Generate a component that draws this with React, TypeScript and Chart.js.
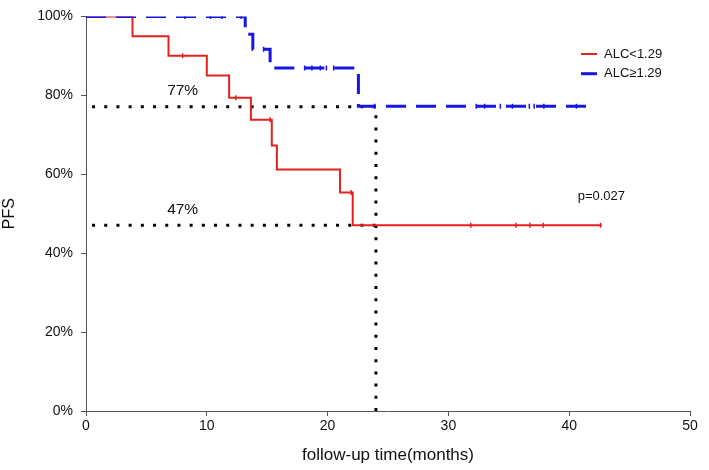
import React, { useEffect, useRef } from 'react';
import { Chart, registerables } from 'chart.js';

Chart.register(...registerables);

// ---- data ----
const seriesNames = ['ALC<1.29', 'ALC≥1.29'];
const redTimes = [0, 3.85, 6.83, 10.0, 11.85, 13.65, 15.38, 15.8, 21.03, 22.08, 42.68];
const redSurv = [100, 95, 90, 85, 79.4, 73.8, 67.3, 61.2, 55.4, 47.1, 47.1];
const blueTimes = [0, 13.18, 13.81, 15.24, 22.55, 41.65];
const blueSurv = [100, 95.5, 91.7, 86.9, 77.2, 77.2];
const redCensor = [8.0, 12.4, 15.25, 21.95, 31.85, 35.6, 36.75, 37.85, 42.6];
const blueCensor = [8.2, 10.3, 11.25, 12.85, 14.7, 18.1, 18.7, 19.4, 19.9, 20.5, 23.9, 32.3, 33.0, 34.3, 35.3, 36.7, 37.1, 37.9, 40.6];
const refLevels = [77.1, 47.1];
const refLabels = ['77%', '47%'];
const refLabelPos = [[8, 81.1], [8, 51.1]];
const refStart = 0.5;
const refTime = 24;
const pText = 'p=0.027';
const pPos = [42.66, 54.4];
const xTicks = [0, 10, 20, 30, 40, 50];
const yTicks = [0, 20, 40, 60, 80, 100];

const RED = '#e3211e';
const BLUE = '#1616e4';
const FONT = '"Liberation Sans", Arial, sans-serif';

function stepValue(times: number[], surv: number[], t: number) {
  let v = surv[0];
  for (let i = 0; i < times.length; i++) if (times[i] <= t) v = surv[i];
  return v;
}

const overlayPlugin = {
  id: 'overlay',
  afterDatasetsDraw(chart: any) {
    const { ctx, scales } = chart;
    const xs = scales.x, ys = scales.y;
    ctx.save();
    ctx.fillStyle = '#111';
    ctx.textBaseline = 'middle';
    ctx.textAlign = 'center';
    ctx.font = `15.5px ${FONT}`;
    refLabels.forEach((l, i) => {
      ctx.fillText(l, xs.getPixelForValue(refLabelPos[i][0]), ys.getPixelForValue(refLabelPos[i][1]));
    });
    ctx.font = `13px ${FONT}`;
    ctx.fillText(pText, xs.getPixelForValue(pPos[0]), ys.getPixelForValue(pPos[1]));
    // legend
    const lx = 581, ly = 54, gap = 19.7;
    const cols = [RED, BLUE];
    const widths = [2, 3];
    seriesNames.forEach((n, i) => {
      const y = ly + i * gap;
      ctx.strokeStyle = cols[i];
      ctx.lineWidth = widths[i];
      ctx.beginPath();
      ctx.moveTo(lx, y);
      ctx.lineTo(lx + 16, y);
      ctx.stroke();
      ctx.textAlign = 'left';
      ctx.fillStyle = '#111';
      ctx.font = `13px ${FONT}`;
      ctx.fillText(n, lx + 23, y);
    });
    ctx.restore();
  },
};

export default function App() {
  const ref = useRef<HTMLCanvasElement | null>(null);
  useEffect(() => {
    document.body.style.margin = '0';
    const canvas = ref.current!;
    const redData = redTimes.map((t, i) => ({ x: t, y: redSurv[i] }));
    const blueData = blueTimes.map((t, i) => ({ x: t, y: blueSurv[i] }));
    const redC = redCensor.map((t) => ({ x: t, y: stepValue(redTimes, redSurv, t) }));
    const blueC = blueCensor.map((t) => ({ x: t, y: stepValue(blueTimes, blueSurv, t) }));
    const dotted = {
      borderColor: '#000',
      borderWidth: 3,
      borderDash: [3, 9.2],
      pointRadius: 0,
      fill: false,
      order: 3,
    };
    const chart = new Chart(canvas, {
      type: 'line',
      data: {
        datasets: [
          {
            label: seriesNames[1], data: blueData, stepped: true, borderColor: BLUE, borderWidth: 3,
            borderDash: [20, 10], pointRadius: 0, fill: false, order: 0,
          },
          {
            label: seriesNames[1] + ' censored', data: blueC, showLine: false, pointStyle: 'line', rotation: 90,
            pointRadius: 2.5, borderColor: BLUE, backgroundColor: BLUE, pointBorderWidth: 1.5, order: 0,
          },
          {
            label: seriesNames[0], data: redData, stepped: true, borderColor: RED, borderWidth: 2,
            pointRadius: 0, fill: false, order: 1,
          },
          {
            label: seriesNames[0] + ' censored', data: redC, showLine: false, pointStyle: 'line', rotation: 90,
            pointRadius: 2.5, borderColor: RED, backgroundColor: RED, pointBorderWidth: 1.5, order: 1,
          },
          { ...dotted, label: 'ref1', data: [{ x: refStart, y: refLevels[0] }, { x: refTime, y: refLevels[0] }] },
          { ...dotted, label: 'ref2', data: [{ x: refStart, y: refLevels[1] }, { x: refTime, y: refLevels[1] }] },
          { ...dotted, label: 'ref3', data: [{ x: refTime, y: 0 }, { x: refTime, y: refLevels[0] }] },
        ],
      },
      options: {
        animation: false,
        responsive: false,
        devicePixelRatio: 1,
        layout: { padding: { left: 0, right: 19, top: 11, bottom: 0 } },
        plugins: { legend: { display: false }, tooltip: { enabled: false } },
        scales: {
          x: {
            type: 'linear', min: 0, max: 50,
            afterBuildTicks: (s: any) => { s.ticks = xTicks.map((v) => ({ value: v })); },
            afterFit: (s: any) => { s.height = 59; },
            grid: { drawOnChartArea: false, drawTicks: true, tickLength: 5, color: '#555' },
            border: { color: '#555', width: 1 },
            ticks: { color: '#111', font: { family: FONT, size: 14 }, padding: 2, maxRotation: 0 },
            title: { display: true, text: 'follow-up time(months)', color: '#111', font: { family: FONT, size: 17 }, padding: { top: 0, bottom: 4 } },
          },
          y: {
            type: 'linear', min: 0, max: 100,
            afterBuildTicks: (s: any) => { s.ticks = yTicks.map((v) => ({ value: v })); },
            afterFit: (s: any) => { s.width = 86; },
            grid: { drawOnChartArea: false, drawTicks: true, tickLength: 5, color: '#555' },
            border: { color: '#555', width: 1 },
            ticks: { color: '#111', font: { family: FONT, size: 14 }, padding: 8, callback: (v: any) => v + '%' },
            title: { display: true, text: 'PFS', color: '#111', font: { family: FONT, size: 16 }, padding: { top: 0, bottom: 0 } },
          },
        },
      },
      plugins: [overlayPlugin],
    } as any);
    return () => chart.destroy();
  }, []);
  return <canvas ref={ref} width={709} height={470} style={{ display: 'block', width: 709, height: 470 }} />;
}
